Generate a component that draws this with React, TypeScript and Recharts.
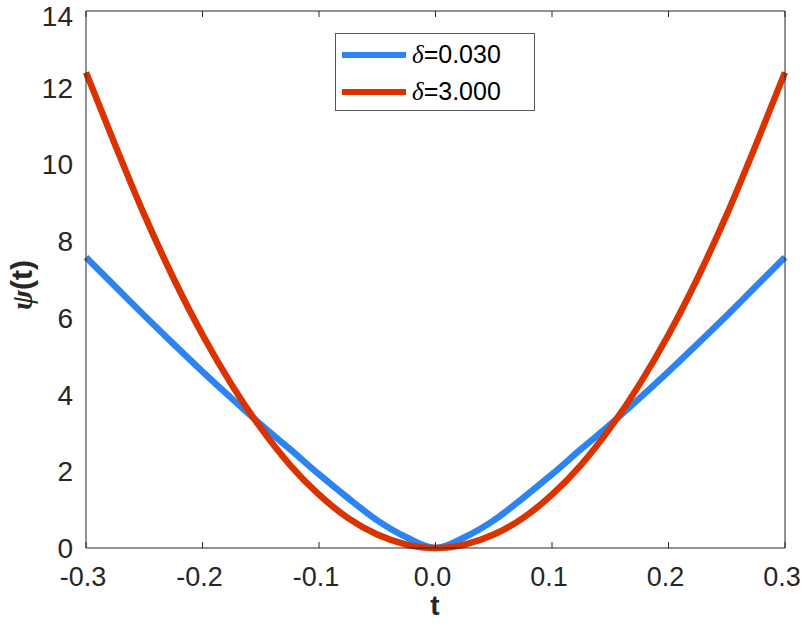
import React from "react";
import { LineChart, Line, XAxis, YAxis, Legend } from "recharts";

// t grid (x axis)
const tValues = [
  -0.3, -0.275, -0.25, -0.225, -0.2, -0.175, -0.15, -0.125, -0.1, -0.075, -0.05, -0.025, 0,
  0.025, 0.05, 0.075, 0.1, 0.125, 0.15, 0.175, 0.2, 0.225, 0.25, 0.275, 0.3,
];

// psi(t) for delta = 0.030 (blue)
const psiSmall = [
  7.58, 6.82, 6.06, 5.32, 4.6, 3.9, 3.22, 2.58, 1.92, 1.3, 0.72, 0.28, 0,
  0.28, 0.72, 1.3, 1.92, 2.58, 3.22, 3.9, 4.6, 5.32, 6.06, 6.82, 7.58,
];

// psi(t) for delta = 3.000 (red)
const psiLarge = [
  12.4, 10.51, 8.69, 7.04, 5.56, 4.26, 3.13, 2.17, 1.39, 0.78, 0.35, 0.09, 0,
  0.09, 0.35, 0.78, 1.39, 2.17, 3.13, 4.26, 5.56, 7.04, 8.69, 10.51, 12.4,
];

const xTicks = [-0.3, -0.2, -0.1, 0, 0.1, 0.2, 0.3];
const yTicks = [0, 2, 4, 6, 8, 10, 12, 14];
const deltaLabels = ["0.030", "3.000"];

const data = tValues.map((t, i) => ({ t, small: psiSmall[i], large: psiLarge[i] }));

const axisColor = "#262626";
const font = "'Liberation Sans', Arial, sans-serif";
const serif = "'Liberation Serif', 'DejaVu Serif', serif";
const blank = () => "";

const LegendBox = ({ payload }: any) => (
  <div
    style={{
      width: 198,
      height: 76,
      border: "1px solid #555",
      background: "#fff",
      fontFamily: font,
      fontSize: 25,
      color: "#000",
    }}
  >
    {(payload || []).map((p: any, i: number) => (
      <div key={i} style={{ display: "flex", alignItems: "center", height: 37, marginTop: i === 0 ? 2 : 0 }}>
        <div style={{ width: 64, height: 6, background: p.color, marginLeft: 6, marginRight: 6 }} />
        <span>
          <span style={{ fontFamily: serif, fontStyle: "italic" }}>δ</span>
          {"=" + deltaLabels[i]}
        </span>
      </div>
    ))}
  </div>
);

export default function App() {
  return (
    <div style={{ position: "relative", width: 802, height: 630, background: "#fff" }}>
      <style>{"body{margin:0;background:#fff}"}</style>
      <LineChart width={802} height={630} margin={{ top: 11, right: 17, bottom: 23, left: 27 }} data={data}>
        {/* inward tick marks (box on all four sides) */}
        <XAxis xAxisId="bTicks" dataKey="t" type="number" domain={[-0.3, 0.3]} ticks={xTicks}
          tickFormatter={blank} height={1} mirror tickSize={6} stroke={axisColor} />
        <XAxis xAxisId="tTicks" orientation="top" dataKey="t" type="number" domain={[-0.3, 0.3]} ticks={xTicks}
          tickFormatter={blank} height={1} mirror tickSize={6} stroke={axisColor} />
        <YAxis yAxisId="lTicks" type="number" domain={[0, 14]} ticks={yTicks}
          tickFormatter={blank} width={1} mirror tickSize={6} stroke={axisColor} />
        <YAxis yAxisId="rTicks" orientation="right" type="number" domain={[0, 14]} ticks={yTicks}
          tickFormatter={blank} width={1} mirror tickSize={6} stroke={axisColor} />
        {/* tick labels */}
        <XAxis
          xAxisId="x"
          dataKey="t"
          type="number"
          domain={[-0.3, 0.3]}
          ticks={xTicks}
          tickFormatter={(v: number) => v.toFixed(1)}
          height={59}
          axisLine={false}
          tickLine={false}
          tickSize={0}
          tickMargin={19}
          tick={{ fill: axisColor, fontSize: 27, fontFamily: font, dx: -3 }}
        />
        <YAxis
          yAxisId="y"
          type="number"
          domain={[0, 14]}
          ticks={yTicks}
          width={59}
          axisLine={false}
          tickLine={false}
          tickSize={0}
          tickMargin={13}
          tick={{ fill: axisColor, fontSize: 28, fontFamily: font }}
        />
        <Legend
          layout="vertical"
          verticalAlign="middle"
          align="center"
          wrapperStyle={{ left: 335, top: 33, width: 200 }}
          content={<LegendBox />}
        />
        <Line
          xAxisId="x"
          yAxisId="y"
          dataKey="small"
          name={"δ=" + deltaLabels[0]}
          type="monotone"
          stroke="#2C84F3"
          strokeWidth={6.5}
          dot={false}
          isAnimationActive={false}
        />
        <Line
          xAxisId="x"
          yAxisId="y"
          dataKey="large"
          name={"δ=" + deltaLabels[1]}
          type="monotone"
          stroke="#DA3300"
          strokeWidth={6.5}
          dot={false}
          isAnimationActive={false}
        />
        <text x={435} y={605} textAnchor="middle" dominantBaseline="central" fontFamily={font} fontSize={28} fontWeight="bold" fill={axisColor}>
          t
        </text>
        <text
          x={21}
          y={285}
          textAnchor="middle"
          dominantBaseline="central"
          transform="rotate(-90 21 285)"
          fontFamily={font}
          fontSize={30}
          fontWeight="bold"
          fill={axisColor}
        >
          <tspan fontFamily={serif} fontStyle="italic" fontWeight="bold">ψ</tspan>
          <tspan>(t)</tspan>
        </text>
      </LineChart>
    </div>
  );
}
